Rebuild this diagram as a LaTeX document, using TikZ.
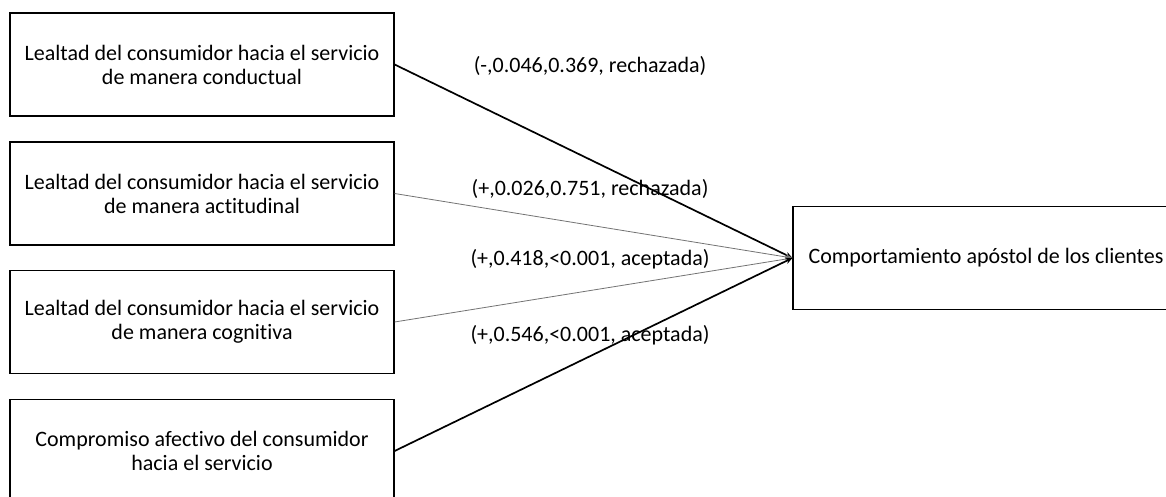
\documentclass[tikz,border=0pt]{standalone}
\usepackage{fontspec}
\setmainfont{Carlito}[Ligatures=NoCommon]
\usetikzlibrary{arrows.meta}
\begin{document}
\begin{tikzpicture}[x=1pt,y=-1pt,
    caja/.style={draw,line width=1.2pt,minimum width=384pt,minimum height=103pt,
      align=center,inner sep=0pt,font=\fontsize{22}{24}\selectfont},
    etiqueta/.style={inner sep=0pt,font=\fontsize{22}{24}\selectfont}]
      \useasboundingbox (0,0) rectangle (1166,497);
      \draw
        (202,64.5) node[caja] (1){Lealtad del consumidor hacia el servicio\\de manera conductual}
        (202,193.5) node[caja] (2){Lealtad del consumidor hacia el servicio\\de manera actitudinal}
        (202,322) node[caja] (3){Lealtad del consumidor hacia el servicio\\de manera cognitiva}
        (202,451) node[caja] (4){Compromiso afectivo del consumidor\\hacia el servicio}
        (986,258) node[caja,minimum width=386pt] (5){Comportamiento apóstol de los clientes};
      \draw
        (590,66) node[etiqueta] (e1){(-,0.046,0.369, rechazada)}
        (590,189) node[etiqueta] (e2){(+,0.026,0.751, rechazada)}
        (590,259) node[etiqueta] (e3){(+,0.418,<0.001, aceptada)}
        (590,335) node[etiqueta] (e4){(+,0.546,<0.001, aceptada)};
      \begin{scope}[-{Stealth[length=7pt,width=6pt]}]
        \draw[line width=1.7pt] (1.east) to (5.west);
        \draw[line width=0.8pt,black!55] (2.east) to (5.west);
        \draw[line width=0.8pt,black!55] (3.east) to (5.west);
        \draw[line width=1.7pt] (4.east) to (5.west);
      \end{scope}
    \end{tikzpicture}
\end{document}
